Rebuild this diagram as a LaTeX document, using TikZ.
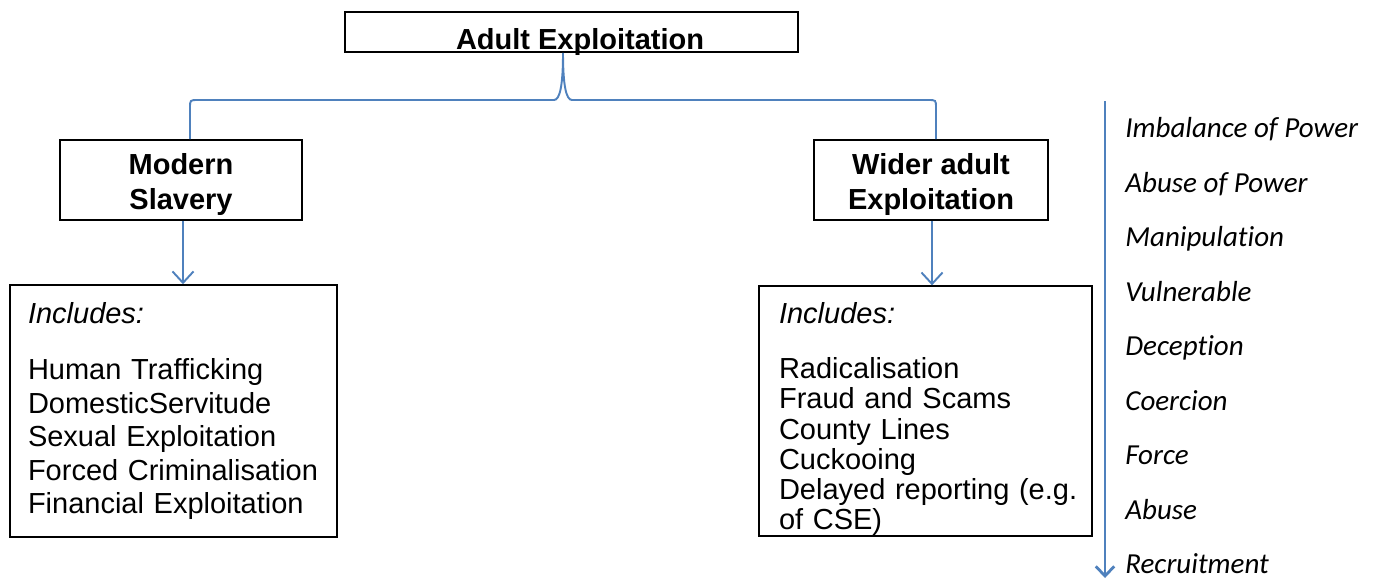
\documentclass[tikz,border=0pt]{standalone}
\usepackage{fontspec}
\setmainfont{Liberation Sans}
\newfontfamily\calibri[Ligatures=NoCommon]{Carlito}
\usetikzlibrary{arrows.meta,calc}
\definecolor{linkblue}{RGB}{79,129,189}

\begin{document}
\begin{tikzpicture}[x=0.02cm,y=-0.02cm,
  box/.style={draw,line width=0.9pt,inner sep=0pt},
  headtext/.style={font=\fontsize{16.5}{19.5}\selectfont\bfseries,align=center},
  listtext/.style={font=\fontsize{16.5}{19.1}\selectfont,align=left},
  link/.style={linkblue,line width=1.1pt},
  linkarrow/.style={link,-{Straight Barb[length=6.5pt,width=12pt,line width=1.1pt]}},
  stagearrow/.style={linkblue,line width=1.6pt,-{Straight Barb[length=5.5pt,width=10.5pt,line width=1.6pt]}},
  stage/.style={anchor=base west,inner sep=0pt,font=\calibri\itshape\fontsize{16.5}{19}\selectfont}]
\useasboundingbox (0,0) rectangle (1375,578);

% The boxes
\node (topbox) at (571.5,32) [box,headtext,minimum width=9.06cm,minimum height=0.8cm,text height=0.72cm,text depth=0cm] {\hspace*{0.34cm}Adult Exploitation};
\node (slaverybox) at (181,180) [box,headtext,minimum width=4.84cm,minimum height=1.6cm] {\rule{0pt}{17pt}Modern\\Slavery};
\node (widerbox) at (931,180) [box,headtext,minimum width=4.68cm,minimum height=1.6cm] {\rule{0pt}{17pt}Wider adult\\Exploitation};

% Includes boxes
\node (slaverylist) at (173.5,411) [box,listtext,minimum width=6.54cm,minimum height=5.04cm,text width=5.82cm] {\textit{Includes:}\\[13pt]
Human Trafficking\\
DomesticServitude\\
Sexual Exploitation\\
Forced Criminalisation\\
Financial Exploitation};
\node (widerlist) at (925.5,411) [box,listtext,font=\fontsize{16.5}{17.2}\selectfont,minimum width=6.66cm,minimum height=4.96cm,text width=5.86cm] {\rule{0pt}{21pt}\textit{Includes:}\\[14.5pt]
Radicalisation\\
Fraud and Scams\\
County Lines\\
Cuckooing\\
\mbox{Delayed reporting (e.g.}\\
of CSE)};

% The brace
\coordinate (braceline) at (0,100);
\path (slaverybox.north) ++(9,0) coordinate(braceleft);
\path (widerbox.north) ++(5,0) coordinate(braceright);
\path (topbox.south) ++(-8.5,0) coordinate(bracetop);
\draw[link] (braceleft) -- ($(braceleft |- braceline)+(0,8)$)
  .. controls (braceleft |- braceline) .. ($(braceleft |- braceline)+(8,0)$)
  -- ($(bracetop |- braceline)+(-9,0)$)
  .. controls ($(bracetop |- braceline)+(-3,0)$) and ($(bracetop)+(0,32)$) .. (bracetop)
  .. controls ($(bracetop)+(0,32)$) and ($(bracetop |- braceline)+(3,0)$) .. ($(bracetop |- braceline)+(9,0)$)
  -- ($(braceright |- braceline)+(-8,0)$)
  .. controls (braceright |- braceline) .. ($(braceright |- braceline)+(0,8)$)
  -- (braceright);

% Down arrows
\draw[linkarrow] (slaverybox.south) ++(2,0) coordinate(slaveryout) -- (slaveryout |- slaverylist.north);
\draw[linkarrow] (widerbox.south) ++(1,0) coordinate(widerout) -- (widerout |- widerlist.north);

% Stages of exploitation
\coordinate (stagestart) at (1105,101);
\coordinate (stageend) at (1105,578);
\draw[stagearrow] (stagestart) -- (stageend);
\node (imbalance) at (1125,137) [stage] {Imbalance of Power};
\node (abusepower) at (1125,192) [stage] {Abuse of Power};
\node (manipulation) at (1125,246) [stage] {Manipulation};
\node (vulnerable) at (1125,301) [stage] {Vulnerable};
\node (deception) at (1125,355) [stage] {Deception};
\node (coercion) at (1125,410) [stage] {Coercion};
\node (force) at (1125,464) [stage] {Force};
\node (abuse) at (1125,519) [stage] {Abuse};
\node (recruitment) at (1125,573) [stage] {Recruitment};

\end{tikzpicture}
\end{document}
